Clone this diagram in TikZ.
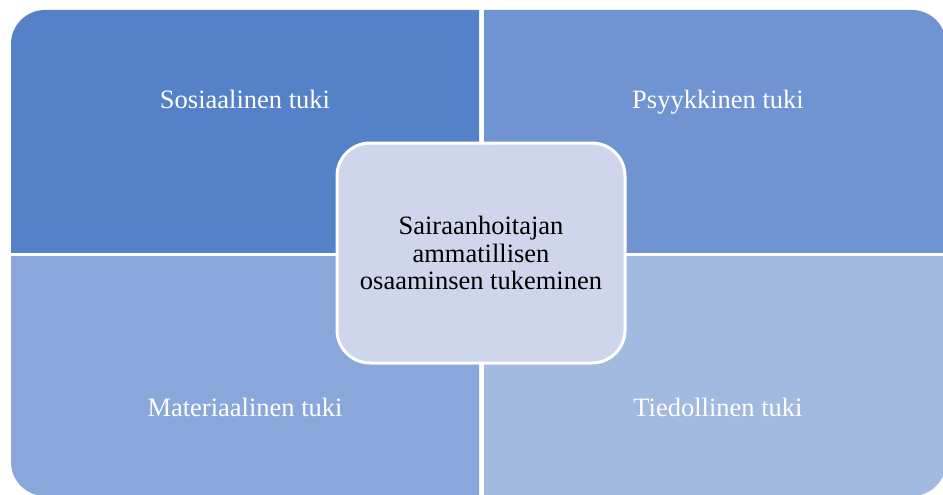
\documentclass[tikz,border=0pt]{standalone}
\usepackage{fontspec}
\setmainfont{Liberation Serif}
\definecolor{quadA}{RGB}{85,129,201}
\definecolor{quadB}{RGB}{112,148,210}
\definecolor{quadC}{RGB}{138,167,219}
\definecolor{quadD}{RGB}{162,185,224}
\definecolor{coreFill}{RGB}{207,213,234}
\tikzset{label font/.style={font=\rmfamily\fontsize{26.5}{27.5}\selectfont}}
\begin{document}
\begin{tikzpicture}[x=1pt,y=-1pt]
        \useasboundingbox (0,0) rectangle (943,495);

        % quadrants, only the outer corner is rounded
        \begin{scope}
          \clip (11,10) rectangle (479,252);
          \fill[quadA,rounded corners=34pt] (11,10) rectangle (560,330);
        \end{scope}
        \begin{scope}
          \clip (484,10) rectangle (946,252);
          \fill[quadB,rounded corners=34pt] (400,10) rectangle (946,330);
        \end{scope}
        \begin{scope}
          \clip (11,256) rectangle (479,496);
          \fill[quadC,rounded corners=34pt] (11,180) rectangle (560,496);
        \end{scope}
        \begin{scope}
          \clip (484,256) rectangle (946,496);
          \fill[quadD,rounded corners=34pt] (400,180) rectangle (946,496);
        \end{scope}

        \begin{scope}[every node/.style={text=white,label font,anchor=base}]
          \node (sos)  at (245,108) {Sosiaalinen tuki};
          \node (psy)  at (718,108) {Psyykkinen tuki};
          \node (mat)  at (245,416) {Materiaalinen tuki};
          \node (tie)  at (718,416) {Tiedollinen tuki};
        \end{scope}

        \node[draw=white,line width=3pt,fill=coreFill,rounded corners=33pt,
              minimum width=288pt,minimum height=220pt,align=center,
              label font] (core) at (481,253)
              {Sairaanhoitajan\\ammatillisen\\osaaminsen tukeminen};

      \end{tikzpicture}
\end{document}
